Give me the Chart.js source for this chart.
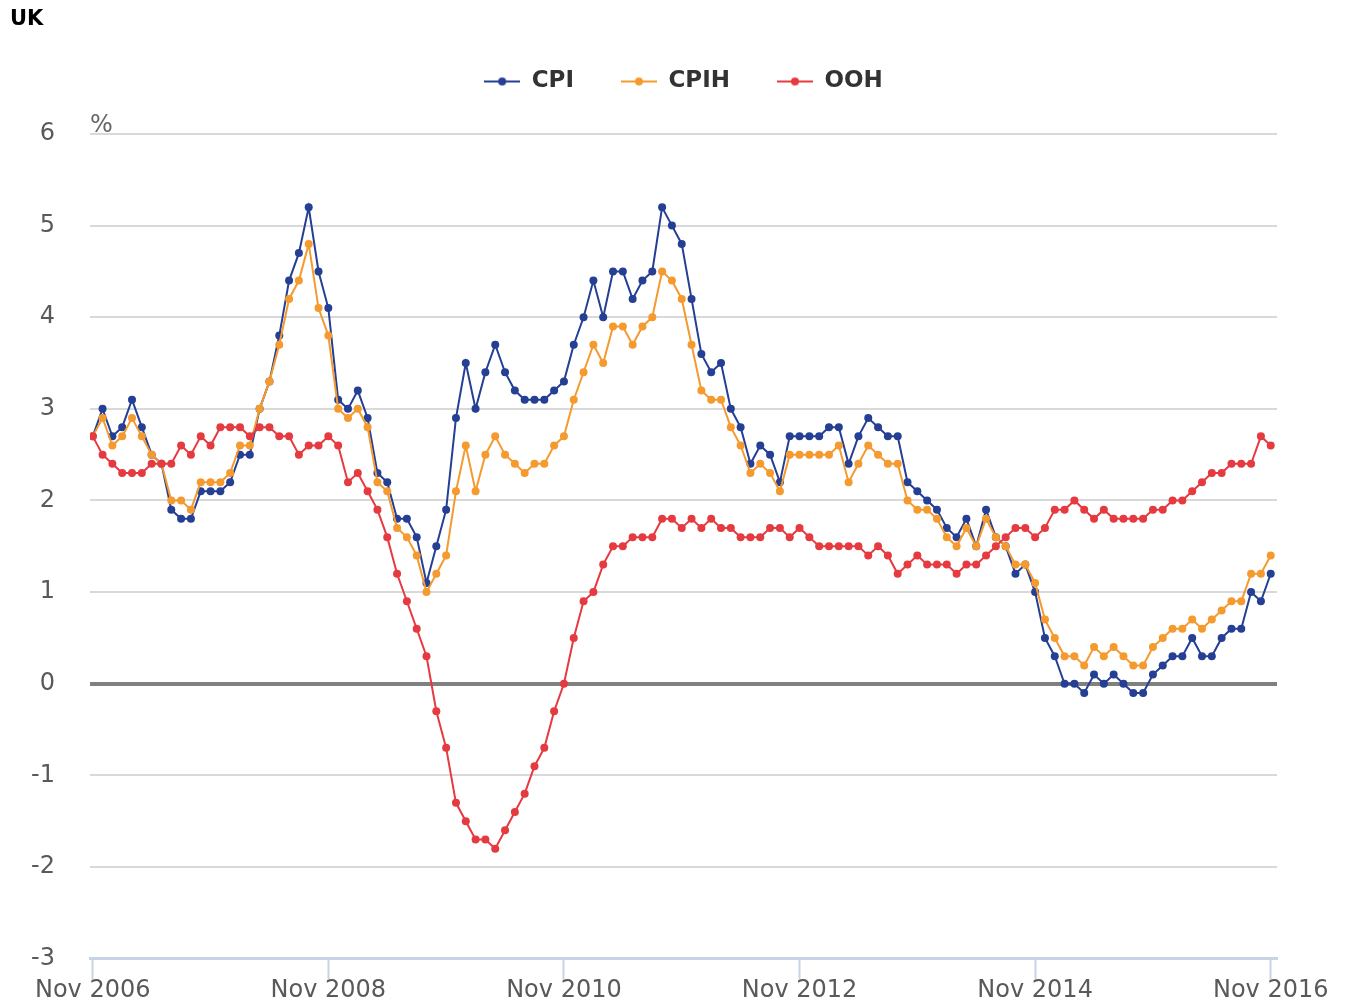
<!DOCTYPE html>
<html>
<head>
<meta charset="utf-8">
<title>UK - CPI, CPIH, OOH</title>
<script src="https://cdn.jsdelivr.net/npm/chart.js@4.4.1/dist/chart.umd.min.js"></script>
<style>
	html, body { margin: 0; padding: 0; background: #fff; overflow: hidden; }
	#wrap { position: relative; width: 1348px; height: 1008px; }
	#titulo { position: absolute; left: 10px; top: 6px; font: bold 21px 'DejaVu Sans', sans-serif; color: #000; }
	canvas { display: block; }
</style>
</head>
<body>
<div id="wrap">
	<canvas id="canvas01" width="1348" height="1008"></canvas>
	<div id="titulo">UK</div>
</div>
<script>

// tasas anuales (%), mensual de Nov 2006 a Nov 2016
var cpiArray = [
	2.7, 3.0,
	2.7, 2.8, 3.1, 2.8, 2.5, 2.4, 1.9, 1.8, 1.8, 2.1, 2.1, 2.1,
	2.2, 2.5, 2.5, 3.0, 3.3, 3.8, 4.4, 4.7, 5.2, 4.5, 4.1, 3.1,
	3.0, 3.2, 2.9, 2.3, 2.2, 1.8, 1.8, 1.6, 1.1, 1.5, 1.9, 2.9,
	3.5, 3.0, 3.4, 3.7, 3.4, 3.2, 3.1, 3.1, 3.1, 3.2, 3.3, 3.7,
	4.0, 4.4, 4.0, 4.5, 4.5, 4.2, 4.4, 4.5, 5.2, 5.0, 4.8, 4.2,
	3.6, 3.4, 3.5, 3.0, 2.8, 2.4, 2.6, 2.5, 2.2, 2.7, 2.7, 2.7,
	2.7, 2.8, 2.8, 2.4, 2.7, 2.9, 2.8, 2.7, 2.7, 2.2, 2.1, 2.0,
	1.9, 1.7, 1.6, 1.8, 1.5, 1.9, 1.6, 1.5, 1.2, 1.3, 1.0, 0.5,
	0.3, 0.0, 0.0, -0.1, 0.1, 0.0, 0.1, 0.0, -0.1, -0.1, 0.1, 0.2,
	0.3, 0.3, 0.5, 0.3, 0.3, 0.5, 0.6, 0.6, 1.0, 0.9, 1.2
];

var cpihArray = [
	2.7, 2.9,
	2.6, 2.7, 2.9, 2.7, 2.5, 2.4, 2.0, 2.0, 1.9, 2.2, 2.2, 2.2,
	2.3, 2.6, 2.6, 3.0, 3.3, 3.7, 4.2, 4.4, 4.8, 4.1, 3.8, 3.0,
	2.9, 3.0, 2.8, 2.2, 2.1, 1.7, 1.6, 1.4, 1.0, 1.2, 1.4, 2.1,
	2.6, 2.1, 2.5, 2.7, 2.5, 2.4, 2.3, 2.4, 2.4, 2.6, 2.7, 3.1,
	3.4, 3.7, 3.5, 3.9, 3.9, 3.7, 3.9, 4.0, 4.5, 4.4, 4.2, 3.7,
	3.2, 3.1, 3.1, 2.8, 2.6, 2.3, 2.4, 2.3, 2.1, 2.5, 2.5, 2.5,
	2.5, 2.5, 2.6, 2.2, 2.4, 2.6, 2.5, 2.4, 2.4, 2.0, 1.9, 1.9,
	1.8, 1.6, 1.5, 1.7, 1.5, 1.8, 1.6, 1.5, 1.3, 1.3, 1.1, 0.7,
	0.5, 0.3, 0.3, 0.2, 0.4, 0.3, 0.4, 0.3, 0.2, 0.2, 0.4, 0.5,
	0.6, 0.6, 0.7, 0.6, 0.7, 0.8, 0.9, 0.9, 1.2, 1.2, 1.4
];

var oohArray = [
	2.7, 2.5,
	2.4, 2.3, 2.3, 2.3, 2.4, 2.4, 2.4, 2.6, 2.5, 2.7, 2.6, 2.8,
	2.8, 2.8, 2.7, 2.8, 2.8, 2.7, 2.7, 2.5, 2.6, 2.6, 2.7, 2.6,
	2.2, 2.3, 2.1, 1.9, 1.6, 1.2, 0.9, 0.6, 0.3, -0.3, -0.7, -1.3,
	-1.5, -1.7, -1.7, -1.8, -1.6, -1.4, -1.2, -0.9, -0.7, -0.3, 0.0, 0.5,
	0.9, 1.0, 1.3, 1.5, 1.5, 1.6, 1.6, 1.6, 1.8, 1.8, 1.7, 1.8,
	1.7, 1.8, 1.7, 1.7, 1.6, 1.6, 1.6, 1.7, 1.7, 1.6, 1.7, 1.6,
	1.5, 1.5, 1.5, 1.5, 1.5, 1.4, 1.5, 1.4, 1.2, 1.3, 1.4, 1.3,
	1.3, 1.3, 1.2, 1.3, 1.3, 1.4, 1.5, 1.6, 1.7, 1.7, 1.6, 1.7,
	1.9, 1.9, 2.0, 1.9, 1.8, 1.9, 1.8, 1.8, 1.8, 1.8, 1.9, 1.9,
	2.0, 2.0, 2.1, 2.2, 2.3, 2.3, 2.4, 2.4, 2.4, 2.7, 2.6
];

var tickLabels = ['Nov 2006', 'Nov 2008', 'Nov 2010', 'Nov 2012', 'Nov 2014', 'Nov 2016'];

var nomMes = ['Jan', 'Feb', 'Mar', 'Apr', 'May', 'Jun', 'Jul', 'Aug', 'Sep', 'Oct', 'Nov', 'Dec'];

// meses (categorias) desde Nov 2006
var mesArray = [];
for (var i = 0; i < cpiArray.length; i++) {
	mesArray.push(nomMes[(10 + i) % 12] + ' ' + (2006 + Math.floor((10 + i) / 12)));
}

var posTicks = tickLabels.map(function (t) { return mesArray.indexOf(t); });

function serie(arr) {
	return arr.map(function (v, i) { return { x: i, y: v }; });
}

var colCPI = '#243f93';
var colCPIH = '#f59a2e';
var colOOH = '#e53a3f';

// marca de leyenda: linea con punto
function marcaLeyenda(color) {
	var c = document.createElement('canvas');
	c.width = 36;
	c.height = 10;
	var g = c.getContext('2d');
	g.strokeStyle = color;
	g.lineWidth = 2;
	g.beginPath();
	g.moveTo(0, 5);
	g.lineTo(36, 5);
	g.stroke();
	g.fillStyle = color;
	g.beginPath();
	g.arc(18, 5, 4, 0, Math.PI * 2);
	g.fill();
	return c;
}

var marcas = [marcaLeyenda(colCPI), marcaLeyenda(colCPIH), marcaLeyenda(colOOH)];

const legendMargin = {
	id: 'legendMargin',
	beforeInit(chart) {
		const fitOrig = chart.legend.fit;
		chart.legend.fit = function () {
			fitOrig.bind(chart.legend)();
			this.height += 31;
		};
	}
};

const etiquetaPorc = {
	id: 'etiquetaPorc',
	afterDraw(chart) {
		const { ctx, chartArea: { left, top } } = chart;
		ctx.save();
		ctx.font = '24px "DejaVu Sans"';
		ctx.fillStyle = '#666666';
		ctx.textAlign = 'left';
		ctx.textBaseline = 'alphabetic';
		ctx.fillText('%', left, top - 2);
		ctx.restore();
	}
};

function datasetLinea(label, arr, color, orden) {
	return {
		label: label,
		data: serie(arr),
		borderColor: color,
		backgroundColor: color,
		borderWidth: 2,
		pointRadius: 4,
		pointHoverRadius: 4,
		pointBorderWidth: 0,
		pointBackgroundColor: color,
		tension: 0,
		order: orden
	};
}

var config01 = {
	type: 'line',
	data: {
		datasets: [
			datasetLinea('CPI', cpiArray, colCPI, 3),
			datasetLinea('CPIH', cpihArray, colCPIH, 2),
			datasetLinea('OOH', oohArray, colOOH, 1)
		]
	},
	options: {
		responsive: false,
		animation: false,
		devicePixelRatio: 1,
		layout: {
			padding: { top: 23, right: 71, bottom: 0, left: 0 }
		},
		plugins: {
			title: { display: false },
			tooltip: { enabled: false },
			legend: {
				position: 'top',
				align: 'center',
				fullSize: false,
				labels: {
					usePointStyle: true,
					pointStyleWidth: 36,
					padding: 47,
					color: '#333333',
					font: { family: 'DejaVu Sans', size: 23, weight: 'bold' },
					generateLabels: function (chart) {
						var items = Chart.defaults.plugins.legend.labels.generateLabels(chart);
						items.forEach(function (it) { it.pointStyle = marcas[it.datasetIndex]; });
						return items;
					},
					sort: function (a, b) { return a.datasetIndex - b.datasetIndex; }
				}
			}
		},
		scales: {
			x: {
				type: 'linear',
				min: -0.28,
				max: 120.64,
				afterBuildTicks: function (scale) {
					scale.ticks = posTicks.map(function (v) { return { value: v }; });
				},
				ticks: {
					autoSkip: false,
					maxRotation: 0,
					padding: -3,
					color: '#595959',
					font: { family: 'DejaVu Sans', size: 24 },
					callback: function (v) { return mesArray[v]; }
				},
				grid: {
					drawOnChartArea: false,
					drawTicks: true,
					tickLength: 21,
					tickColor: '#c8d4e6',
					tickWidth: 2
				},
				border: { display: true, color: '#c8d4e6', width: 3 }
			},
			y: {
				min: -3,
				max: 6,
				afterFit: function (scale) { scale.width = 90; },
				ticks: {
					stepSize: 1,
					padding: 35,
					color: '#595959',
					font: { family: 'DejaVu Sans', size: 24 }
				},
				grid: {
					drawTicks: false,
					color: function (c) {
						if (c.tick.value === 0) return '#808080';
						if (c.tick.value === -3) return 'rgba(0,0,0,0)';
						return '#d9d9d9';
					},
					lineWidth: function (c) { return c.tick.value === 0 ? 4 : 2; }
				},
				border: { display: false }
			}
		}
	},
	plugins: [legendMargin, etiquetaPorc]
};

var ctx01 = document.getElementById('canvas01').getContext('2d');
var graf01 = new Chart(ctx01, config01);

</script>
</body>
</html>
